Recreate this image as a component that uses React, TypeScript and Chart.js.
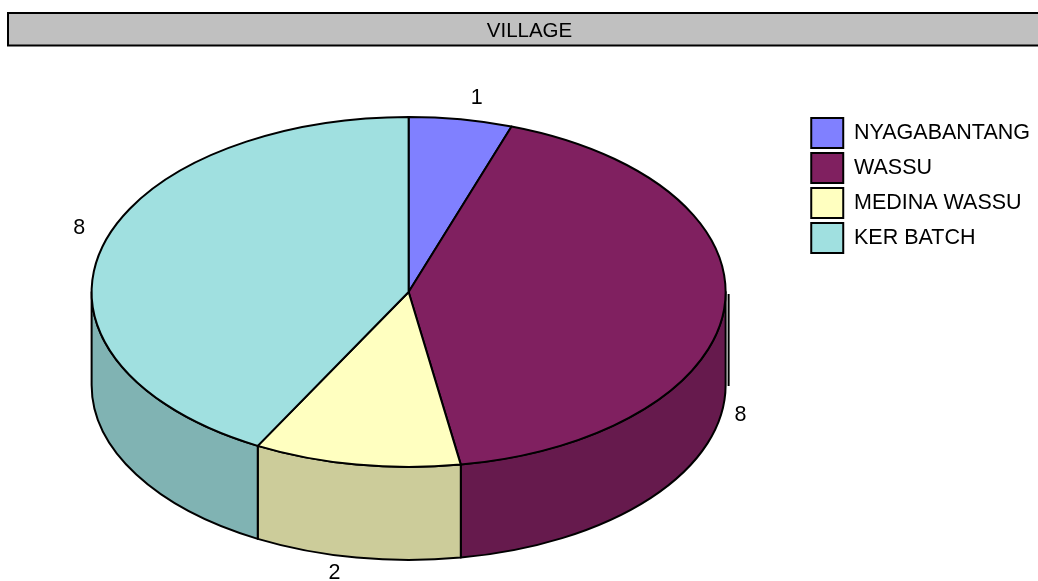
import React, { useEffect, useRef } from "react";
import { Chart, registerables } from "chart.js";

Chart.register(...registerables);

const chartTitle = "VILLAGE";
const categories = ["NYAGABANTANG", "WASSU", "MEDINA WASSU", "KER BATCH"];
const values = [1, 8, 2, 8];
const colors = ["#8080ff", "#802060", "#ffffc0", "#a0e0e0"];

const FONT = "'Liberation Sans', Arial, sans-serif";
const TILT = 175 / 317; // vertical squash of the top face
const DEPTH = 93 / 317; // thickness relative to radius
const SIDE_SHADE = 0.8;

function shade(hex: string, f: number): string {
  const h = hex.replace("#", "");
  const r = Math.round(parseInt(h.slice(0, 2), 16) * f);
  const g = Math.round(parseInt(h.slice(2, 4), 16) * f);
  const b = Math.round(parseInt(h.slice(4, 6), 16) * f);
  return `rgb(${r},${g},${b})`;
}

const titleBar = {
  id: "titleBar",
  beforeDraw(chart: any) {
    const ctx = chart.ctx as CanvasRenderingContext2D;
    ctx.save();
    ctx.fillStyle = "#c0c0c0";
    ctx.fillRect(8, 13, 1050, 32.5);
    ctx.strokeStyle = "#000";
    ctx.lineWidth = 2;
    ctx.strokeRect(8, 13, 1050, 32.5);
    ctx.fillStyle = "#000";
    ctx.font = `20.5px ${FONT}`;
    ctx.textAlign = "center";
    ctx.textBaseline = "middle";
    ctx.fillText(chartTitle, 529.5, 31);
    ctx.restore();
  },
};

const pie3d = {
  id: "pie3d",
  beforeDatasetDraw() {
    return false;
  },
  afterDatasetsDraw(chart: any) {
    const meta = chart.getDatasetMeta(0);
    const arcs = meta.data as any[];
    if (!arcs.length) return;
    const ctx = chart.ctx as CanvasRenderingContext2D;
    const cx = arcs[0].x;
    const cy = arcs[0].y;
    const rx = arcs[0].outerRadius;
    const ry = rx * TILT;
    const d = rx * DEPTH;
    ctx.save();
    ctx.lineJoin = "round";

    // side walls (visible front half: angles 0..PI)
    arcs.forEach((arc) => {
      const a = arc.startAngle;
      const b = arc.endAngle;
      const o = arc.options;
      for (const base of [-2 * Math.PI, 0, 2 * Math.PI]) {
        const s = Math.max(a, base);
        const e = Math.min(b, base + Math.PI);
        if (e <= s) continue;
        ctx.beginPath();
        ctx.ellipse(cx, cy, rx, ry, 0, s, e, false);
        ctx.lineTo(cx + rx * Math.cos(e), cy + d + ry * Math.sin(e));
        ctx.ellipse(cx, cy + d, rx, ry, 0, e, s, true);
        ctx.closePath();
        ctx.fillStyle = shade(o.backgroundColor, SIDE_SHADE);
        ctx.fill();
        ctx.strokeStyle = o.borderColor;
        ctx.lineWidth = o.borderWidth;
        ctx.stroke();
      }
    });

    // right edge line
    ctx.beginPath();
    ctx.moveTo(cx + rx + 3, cy + 2);
    ctx.lineTo(cx + rx + 3, cy + d + 1);
    ctx.strokeStyle = "#000";
    ctx.lineWidth = 2;
    ctx.stroke();

    // top faces
    arcs.forEach((arc) => {
      const o = arc.options;
      ctx.beginPath();
      ctx.moveTo(cx, cy);
      ctx.ellipse(cx, cy, rx, ry, 0, arc.startAngle, arc.endAngle, false);
      ctx.closePath();
      ctx.fillStyle = o.backgroundColor;
      ctx.fill();
      ctx.strokeStyle = o.borderColor;
      ctx.lineWidth = o.borderWidth;
      ctx.stroke();
    });

    // value labels
    ctx.fillStyle = "#000";
    ctx.font = `21.5px ${FONT}`;
    ctx.textAlign = "center";
    ctx.textBaseline = "middle";
    const vals = chart.data.datasets[0].data as number[];
    arcs.forEach((arc, i) => {
      const mid = (arc.startAngle + arc.endAngle) / 2;
      const c = Math.cos(mid);
      const s = Math.sin(mid);
      const ex = cx + rx * c;
      const ey = cy + ry * s + (s > 0 ? d : 0);
      const lx = ex + (c > 0 ? 16 : -22);
      const ly = ey + (s > 0 ? 15.5 : -21);
      ctx.fillText(String(vals[i]), lx, ly);
    });
    ctx.restore();
  },
};

export default function App() {
  const ref = useRef<HTMLCanvasElement>(null);
  useEffect(() => {
    if (!ref.current) return;
    Chart.defaults.font.family = FONT;
    Chart.defaults.color = "#000";
    const chart = new Chart(ref.current, {
      type: "pie",
      data: {
        labels: categories,
        datasets: [
          {
            data: values,
            backgroundColor: colors,
            borderColor: "#000",
            borderWidth: 2,
            radius: 317,
          } as any,
        ],
      },
      options: {
        responsive: true,
        maintainAspectRatio: false,
        animation: false,
        layout: { padding: { left: 11, right: -2, top: 113, bottom: 110 } },
        plugins: {
          legend: {
            position: "right",
            align: "start",
            labels: {
              boxWidth: 32,
              boxHeight: 30,
              padding: 5,
              color: "#000",
              font: { size: 21.5, family: FONT },
            },
          },
          tooltip: { enabled: false },
          title: { display: false },
        },
        events: [],
      },
      plugins: [titleBar, pie3d],
    });
    return () => chart.destroy();
  }, []);
  return (
    <div
      style={{
        position: "fixed",
        left: 0,
        top: 0,
        width: 1038,
        height: 581,
        background: "#fff",
      }}
    >
      <canvas ref={ref} />
    </div>
  );
}
